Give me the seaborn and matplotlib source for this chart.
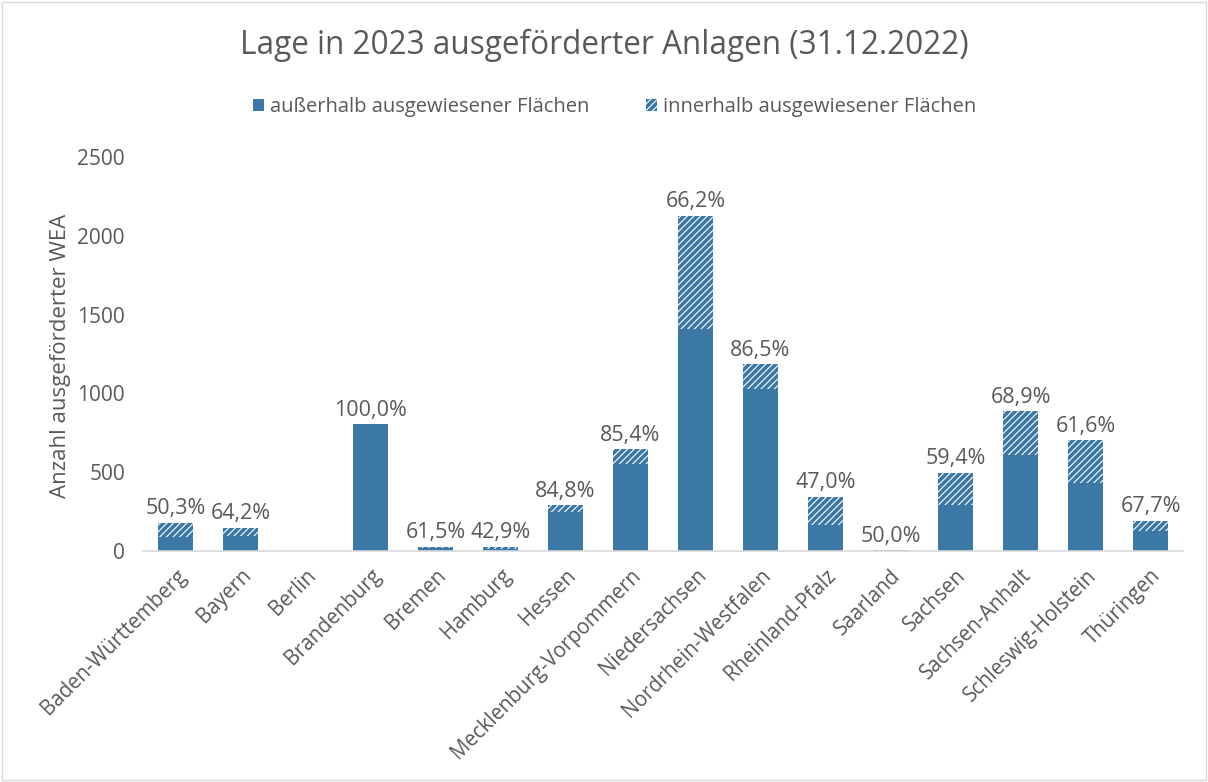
import matplotlib
matplotlib.use("Agg")
import matplotlib.pyplot as plt
import seaborn as sns
import pandas as pd
from matplotlib.patches import Rectangle, Patch

laender = ["Baden-Württemberg", "Bayern", "Berlin", "Brandenburg", "Bremen", "Hamburg",
           "Hessen", "Mecklenburg-Vorpommern", "Niedersachsen", "Nordrhein-Westfalen",
           "Rheinland-Pfalz", "Saarland", "Sachsen", "Sachsen-Anhalt",
           "Schleswig-Holstein", "Thüringen"]
ausserhalb = [90, 95, 0, 806, 16, 12, 245, 551, 1409, 1026, 162, 2, 295, 612, 434, 130]
innerhalb = [89, 53, 0, 0, 10, 16, 44, 94, 719, 160, 183, 2, 202, 276, 270, 62]
anteil_labels = ["50,3%", "64,2%", "", "100,0%", "61,5%", "42,9%", "84,8%", "85,4%",
                 "66,2%", "86,5%", "47,0%", "50,0%", "59,4%", "68,9%", "61,6%", "67,7%"]

title = "Lage in 2023 ausgeförderter Anlagen (31.12.2022)"
serie_a = "außerhalb ausgewiesener Flächen"
serie_i = "innerhalb ausgewiesener Flächen"
ylabel = "Anzahl ausgeförderter WEA"

blue = "#3C78A5"
grey = "#595959"

sns.set_theme(style="white")
plt.rcParams["font.family"] = ["Open Sans", "DejaVu Sans"]
plt.rcParams["hatch.linewidth"] = 2.6
plt.rcParams["hatch.color"] = blue

df = pd.DataFrame({"Land": laender, "aus": ausserhalb, "inn": innerhalb})
df["total"] = df["aus"] + df["inn"]

fig = plt.figure(figsize=(12.08, 7.82), dpi=100)
ax = fig.add_axes([143 / 1208, 1 - 551 / 782, (1183 - 143) / 1208, (551 - 157) / 782])

sns.barplot(data=df, x="Land", y="total", ax=ax, color="white", edgecolor=blue,
            hatch="/////", linewidth=0, width=0.55, saturation=1)
sns.barplot(data=df, x="Land", y="aus", ax=ax, color=blue, linewidth=0,
            width=0.55, saturation=1)

for i, (t, lab) in enumerate(zip(df["total"], anteil_labels)):
    if lab:
        ax.text(i, t + 22, lab, ha="center", va="bottom", fontsize=15.5, color=grey)

ax.set_ylim(0, 2500)
ax.set_xlim(-0.5, len(laender) - 0.5)
ax.set_yticks([0, 500, 1000, 1500, 2000, 2500])
ax.tick_params(axis="y", labelsize=15, labelcolor=grey, length=0, pad=13)
ax.tick_params(axis="x", labelsize=14.8, labelcolor=grey, length=0, pad=10)
plt.setp(ax.get_xticklabels(), rotation=45, ha="right", rotation_mode="anchor")
ax.set_xlabel("")
ax.set_ylabel(ylabel, fontsize=16, color=grey)
ax.yaxis.set_label_coords((71 - 143) / 1040, (551 - 356) / 394)
for s in ["top", "right", "left"]:
    ax.spines[s].set_visible(False)
ax.spines["bottom"].set_color("#d9d9d9")
ax.spines["bottom"].set_linewidth(1.2)

fig.text(0.5, 1 - 45 / 782, title, ha="center", va="center", fontsize=22.7, color=grey)

handles = [Patch(facecolor=blue, edgecolor=blue, linewidth=0),
           Patch(facecolor="white", edgecolor=blue, hatch="/////", linewidth=0)]
fig.legend(handles, [serie_a, serie_i], loc="center", bbox_to_anchor=(615 / 1208, 1 - 107 / 782),
           ncol=2, frameon=False, fontsize=14.5, labelcolor=grey, handlelength=0.55,
           handleheight=0.55, handletextpad=0.3, columnspacing=2.8)

fig.patches.append(Rectangle((0.002, 0.002), 0.996, 0.996, transform=fig.transFigure,
                             fill=False, edgecolor="#d9d9d9", linewidth=1))

fig.savefig("out.png", dpi=100)
